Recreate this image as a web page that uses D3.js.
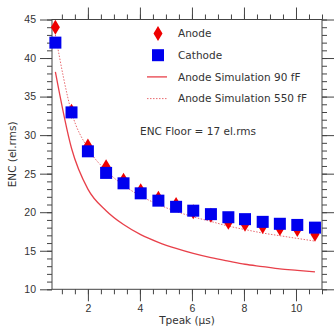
<!DOCTYPE html>
<html>
<head>
<meta charset="utf-8">
<script src="https://cdn.jsdelivr.net/npm/d3@7"></script>
<style>
  body { margin: 0; background: #fff; }
  svg { display: block; font-family: "DejaVu Sans", sans-serif; }
</style>
</head>
<body>
<div id="chart"></div>
<script>
// peaking time (us)
const tpeak = [0.75, 1.37, 2.0, 2.7, 3.37, 4.03, 4.71, 5.39, 6.05, 6.73, 7.4, 8.04, 8.72, 9.38, 10.05, 10.73];
const anode = [44.0, 33.1, 28.6, 25.9, 24.15, 22.8, 21.8, 21.0, 20.05, 19.6, 18.7, 18.45, 18.15, 17.9, 17.75, 17.15];
const cathode = [42.0, 32.95, 27.9, 25.1, 23.75, 22.45, 21.5, 20.7, 20.2, 19.75, 19.35, 19.1, 18.75, 18.5, 18.35, 18.0];
const sim90 = [38.2, 28.3, 23.0, 20.2, 18.4, 17.1, 16.1, 15.3, 14.65, 14.1, 13.65, 13.25, 12.95, 12.65, 12.45, 12.25];
const sim550 = [43.0, 33.0, 28.3, 25.4, 23.5, 22.1, 21.0, 20.1, 19.4, 18.8, 18.2, 17.75, 17.3, 16.95, 16.6, 16.25];

const yMajor = [10, 15, 20, 25, 30, 35, 40, 45];
const xMajor = [2, 4, 6, 8, 10];
const legendLabels = ["Anode", "Cathode", "Anode Simulation 90 fF", "Anode Simulation 550 fF"];
const note = "ENC Floor = 17 el.rms";

const width = 334, height = 327;
const margin = {top: 19.5, right: 12, bottom: 37.7, left: 52};
const fs = "10.5px";

const svg = d3.select("#chart").append("svg")
  .attr("width", width)
  .attr("height", height);

const x = d3.scaleLinear().domain([0.62, 11]).range([margin.left, width - margin.right]);
const y = d3.scaleLinear().domain([10, 45]).range([height - margin.bottom, margin.top]);

const xMinor = d3.range(1, 11.01, 0.5);
const yMinor = d3.range(10, 45.01, 1);

const axisColor = "#444";
const textColor = "#333";

function styleAxis(g) {
  g.select(".domain").remove();
  g.selectAll("line").attr("stroke", axisColor);
  g.selectAll("text").attr("fill", textColor).style("font-size", fs);
}

// minor ticks
svg.append("g").attr("transform", `translate(0,${y(10)})`)
  .call(d3.axisBottom(x).tickValues(xMinor).tickSize(5).tickFormat("")).call(styleAxis);
svg.append("g").attr("transform", `translate(0,${y(45)})`)
  .call(d3.axisTop(x).tickValues(xMinor).tickSize(5).tickFormat("")).call(styleAxis);
svg.append("g").attr("transform", `translate(${x.range()[0]},0)`)
  .call(d3.axisLeft(y).tickValues(yMinor).tickSize(5).tickFormat("")).call(styleAxis);
svg.append("g").attr("transform", `translate(${x.range()[1]},0)`)
  .call(d3.axisRight(y).tickValues(yMinor).tickSize(5).tickFormat("")).call(styleAxis);

// major ticks
svg.append("g").attr("transform", `translate(0,${y(10)})`)
  .call(d3.axisBottom(x).tickValues(xMajor).tickSize(12).tickPadding(3).tickFormat(d3.format("d"))).call(styleAxis);
svg.append("g").attr("transform", `translate(0,${y(45)})`)
  .call(d3.axisTop(x).tickValues(xMajor).tickSize(12).tickFormat("")).call(styleAxis);
svg.append("g").attr("transform", `translate(${x.range()[0]},0)`)
  .call(d3.axisLeft(y).tickValues(yMajor).tickSize(12).tickPadding(4)).call(styleAxis);
svg.append("g").attr("transform", `translate(${x.range()[1]},0)`)
  .call(d3.axisRight(y).tickValues(yMajor).tickSize(12).tickFormat("")).call(styleAxis);

// frame
svg.append("rect")
  .attr("x", x.range()[0]).attr("y", y(45))
  .attr("width", x.range()[1] - x.range()[0])
  .attr("height", y(10) - y(45))
  .attr("fill", "none").attr("stroke", axisColor).attr("stroke-width", 1);

const pts = tpeak.map((t, i) => ({t, anode: anode[i], cathode: cathode[i], s90: sim90[i], s550: sim550[i]}));

const line90 = d3.line().curve(d3.curveMonotoneX).x(d => x(d.t)).y(d => y(d.s90));
const line550 = d3.line().curve(d3.curveMonotoneX).x(d => x(d.t)).y(d => y(d.s550));

svg.append("path").datum(pts).attr("d", line90)
  .attr("fill", "none").attr("stroke", "#e8404a").attr("stroke-width", 1.3);
svg.append("path").datum(pts).attr("d", line550)
  .attr("fill", "none").attr("stroke", "#e86a70").attr("stroke-width", 1)
  .attr("stroke-dasharray", "1.5,1.5");

const diamond = "M0,-7.5L4.5,0L0,7.5L-4.5,0Z";

svg.append("g").selectAll("path").data(pts).enter().append("path")
  .attr("d", diamond)
  .attr("transform", d => `translate(${x(d.t)},${y(d.anode)})`)
  .attr("fill", "#ee0000");

svg.append("g").selectAll("rect").data(pts).enter().append("rect")
  .attr("x", d => x(d.t) - 6).attr("y", d => y(d.cathode) - 6)
  .attr("width", 12).attr("height", 12)
  .attr("fill", "#0000ee");

// legend
const lx = 158, ly = 33.5, step = 21.7;
const legend = svg.append("g");
legend.append("path").attr("d", diamond).attr("transform", `translate(${lx},${ly})`).attr("fill", "#ee0000");
legend.append("rect").attr("x", lx - 6).attr("y", ly + step - 6).attr("width", 12).attr("height", 12).attr("fill", "#0000ee");
legend.append("line").attr("x1", lx - 11).attr("x2", lx + 9).attr("y1", ly + 2 * step).attr("y2", ly + 2 * step)
  .attr("stroke", "#e8404a").attr("stroke-width", 1.3);
legend.append("line").attr("x1", lx - 11).attr("x2", lx + 9).attr("y1", ly + 3 * step).attr("y2", ly + 3 * step)
  .attr("stroke", "#e86a70").attr("stroke-width", 1).attr("stroke-dasharray", "1.5,1.5");
legend.selectAll("text").data(legendLabels).enter().append("text")
  .attr("x", lx + 20).attr("y", (d, i) => ly + i * step)
  .attr("dy", "0.35em")
  .attr("fill", textColor).style("font-size", fs)
  .text(d => d);

svg.append("text").attr("x", 140).attr("y", 131.5).attr("dy", "0.35em")
  .attr("fill", textColor).style("font-size", fs).text(note);

// axis titles
svg.append("text").attr("x", (x.range()[0] + x.range()[1]) / 2).attr("y", 320).attr("dy", "0.35em")
  .attr("text-anchor", "middle").attr("fill", textColor).style("font-size", fs).text("Tpeak (µs)");
svg.append("text").attr("transform", `translate(12,${(y(10) + y(45)) / 2}) rotate(-90)`)
  .attr("dy", "0.35em").attr("text-anchor", "middle").attr("fill", textColor).style("font-size", fs)
  .text("ENC (el.rms)");
</script>
</body>
</html>
